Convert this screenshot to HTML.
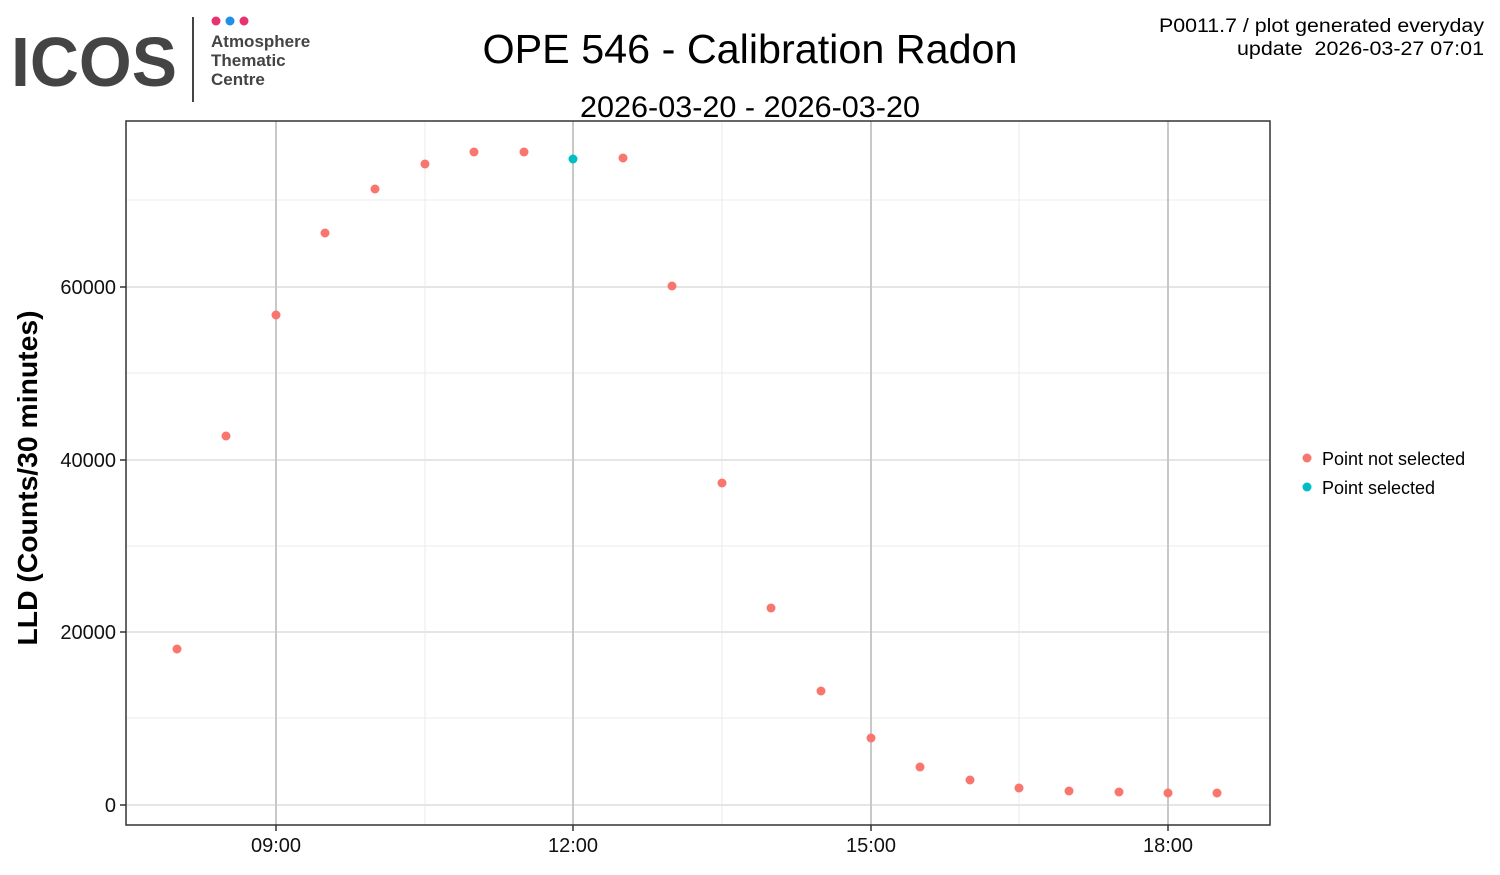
<!DOCTYPE html>
<html><head><meta charset="utf-8"><style>
html,body{margin:0;padding:0;background:#fff;}
body{width:1500px;height:870px;overflow:hidden;}
</style></head><body>
<svg width="1500" height="870" xmlns="http://www.w3.org/2000/svg" font-family="Liberation Sans, sans-serif">
<rect width="1500" height="870" fill="#fff"/>
<!-- logo -->
<text x="11" y="86" font-size="70" font-weight="bold" fill="#444" textLength="166" lengthAdjust="spacingAndGlyphs">ICOS</text>
<line x1="193" y1="17" x2="193" y2="102" stroke="#444" stroke-width="2"/>
<circle cx="216" cy="21" r="4.5" fill="#e8336e"/>
<circle cx="230" cy="21" r="4.5" fill="#1e90e8"/>
<circle cx="244" cy="21" r="4.5" fill="#e8336e"/>
<text x="211" y="47" font-size="17" font-weight="bold" fill="#444">Atmosphere</text>
<text x="211" y="66" font-size="17" font-weight="bold" fill="#444">Thematic</text>
<text x="211" y="85" font-size="17" font-weight="bold" fill="#444">Centre</text>
<!-- titles -->
<text x="750" y="63" font-size="41" text-anchor="middle" fill="#000" textLength="535" lengthAdjust="spacingAndGlyphs">OPE 546 - Calibration Radon</text>
<text x="750" y="117" font-size="30" text-anchor="middle" fill="#000" textLength="340" lengthAdjust="spacingAndGlyphs">2026-03-20 - 2026-03-20</text>
<text x="1484" y="32" font-size="19" text-anchor="end" textLength="325" lengthAdjust="spacingAndGlyphs">P0011.7 / plot generated everyday</text>
<text x="1484" y="55" font-size="19" text-anchor="end" xml:space="preserve" textLength="247" lengthAdjust="spacingAndGlyphs">update  2026-03-27 07:01</text>
<!-- grid -->
<g stroke="#ebebeb" stroke-width="1">
<line x1="126" x2="1270" y1="718" y2="718"/><line x1="126" x2="1270" y1="546" y2="546"/>
<line x1="126" x2="1270" y1="373" y2="373"/><line x1="126" x2="1270" y1="200" y2="200"/>
<line y1="121" y2="825" x1="425" x2="425"/><line y1="121" y2="825" x1="722" x2="722"/><line y1="121" y2="825" x1="1019" x2="1019"/>
</g>
<g stroke="#e5e5e5" stroke-width="2">
<line x1="126" x2="1270" y1="805" y2="805"/><line x1="126" x2="1270" y1="632" y2="632"/>
<line x1="126" x2="1270" y1="460" y2="460"/><line x1="126" x2="1270" y1="287" y2="287"/>
</g>
<g stroke="#c8c8c8" stroke-width="2">
<line y1="121" y2="825" x1="276" x2="276"/><line y1="121" y2="825" x1="573" x2="573"/>
<line y1="121" y2="825" x1="871" x2="871"/><line y1="121" y2="825" x1="1168" x2="1168"/>
</g>
<rect x="126" y="121" width="1144" height="704" fill="none" stroke="#333" stroke-width="1.5"/>
<!-- ticks -->
<g stroke="#333" stroke-width="1.5">
<line x1="120" x2="126" y1="805" y2="805"/><line x1="120" x2="126" y1="632" y2="632"/>
<line x1="120" x2="126" y1="460" y2="460"/><line x1="120" x2="126" y1="287" y2="287"/>
<line y1="825" y2="831" x1="276" x2="276"/><line y1="825" y2="831" x1="573" x2="573"/>
<line y1="825" y2="831" x1="871" x2="871"/><line y1="825" y2="831" x1="1168" x2="1168"/>
</g>
<g font-size="20" fill="#111" text-anchor="end">
<text x="116" y="812">0</text><text x="116" y="639">20000</text>
<text x="116" y="467">40000</text><text x="116" y="294">60000</text>
</g>
<g font-size="20" fill="#111" text-anchor="middle">
<text x="276" y="852">09:00</text><text x="573" y="852">12:00</text>
<text x="871" y="852">15:00</text><text x="1168" y="852">18:00</text>
</g>
<text transform="translate(37,478) rotate(-90)" font-size="28" font-weight="bold" text-anchor="middle" textLength="335" lengthAdjust="spacingAndGlyphs">LLD (Counts/30 minutes)</text>
<!-- points -->
<g fill="#f8766d">
<circle cx="177" cy="649" r="4.5"/><circle cx="226" cy="436" r="4.5"/><circle cx="276" cy="315" r="4.5"/>
<circle cx="325" cy="233" r="4.5"/><circle cx="375" cy="189" r="4.5"/><circle cx="425" cy="164" r="4.5"/>
<circle cx="474" cy="152" r="4.5"/><circle cx="524" cy="152" r="4.5"/><circle cx="623" cy="158" r="4.5"/>
<circle cx="672" cy="286" r="4.5"/><circle cx="722" cy="483" r="4.5"/><circle cx="771" cy="608" r="4.5"/>
<circle cx="821" cy="691" r="4.5"/><circle cx="871" cy="738" r="4.5"/><circle cx="920" cy="767" r="4.5"/>
<circle cx="970" cy="780" r="4.5"/><circle cx="1019" cy="788" r="4.5"/><circle cx="1069" cy="791" r="4.5"/>
<circle cx="1119" cy="792" r="4.5"/><circle cx="1168" cy="793" r="4.5"/><circle cx="1217" cy="793" r="4.5"/>
</g>
<circle cx="573" cy="159" r="4.5" fill="#00bfc4"/>
<!-- legend -->
<circle cx="1307" cy="458" r="4.5" fill="#f8766d"/>
<circle cx="1307" cy="487" r="4.5" fill="#00bfc4"/>
<text x="1322" y="465" font-size="18">Point not selected</text>
<text x="1322" y="494" font-size="18">Point selected</text>
</svg>
</body></html>
